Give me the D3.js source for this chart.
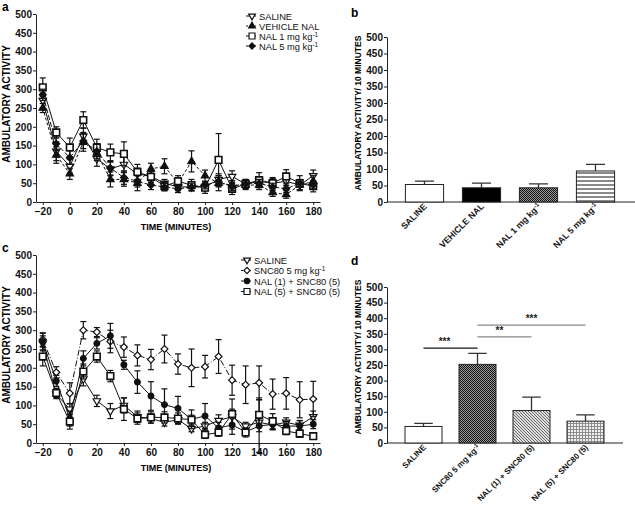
<!DOCTYPE html>
<html>
<head>
<meta charset="utf-8">
<script src="https://cdn.jsdelivr.net/npm/d3@7"></script>
<style>
body { margin: 0; background: #fff; }
svg { display: block; font-family: "Liberation Sans", Arial, sans-serif; }
</style>
</head>
<body>
<div id="chart"></div>
<script>
// ---- data ----
const times = [-20, -10, 0, 10, 20, 30, 40, 50, 60, 70, 80, 90, 100, 110, 120, 130, 140, 150, 160, 170, 180];
const timeTicks = [-20, 0, 20, 40, 60, 80, 100, 120, 140, 160, 180];
const yTicks = [0, 50, 100, 150, 200, 250, 300, 350, 400, 450, 500];

// panel a
const aSaline     = [270, 135, 95, 175, 115, 88, 100, 75, 68, 50, 40, 40, 40, 60, 68, 48, 55, 50, 55, 45, 70];
const aSalineErr  = [20, 25, 18, 22, 20, 18, 20, 15, 12, 10, 10, 10, 10, 15, 15, 12, 12, 12, 12, 12, 15];
const aVehicle    = [250, 125, 75, 160, 130, 60, 60, 50, 88, 95, 50, 108, 70, 50, 45, 45, 45, 25, 20, 45, 55];
const aVehicleErr = [12, 22, 15, 25, 20, 20, 18, 20, 15, 20, 15, 28, 15, 20, 12, 12, 12, 10, 10, 12, 15];
const aNal1       = [305, 185, 145, 218, 145, 132, 128, 80, 67, 42, 55, 45, 38, 112, 35, 48, 58, 50, 68, 50, 42];
const aNal1Err    = [25, 15, 25, 22, 22, 22, 32, 20, 15, 12, 15, 15, 15, 70, 15, 12, 20, 15, 18, 20, 15];
const aNal5       = [285, 155, 118, 162, 135, 90, 65, 55, 45, 40, 35, 40, 45, 55, 40, 48, 50, 40, 35, 50, 45];
const aNal5Err    = [15, 18, 18, 20, 20, 18, 18, 15, 12, 10, 10, 10, 10, 15, 10, 10, 10, 10, 10, 10, 10];

// panel c
const cSaline     = [265, 130, 90, 170, 112, 85, 100, 70, 65, 55, 62, 38, 45, 60, 70, 45, 55, 48, 55, 47, 70];
const cSalineErr  = [20, 12, 15, 18, 15, 20, 20, 15, 12, 10, 10, 8, 10, 15, 20, 10, 12, 12, 12, 12, 15];
const cSnc80      = [275, 188, 132, 300, 295, 270, 255, 233, 222, 250, 210, 200, 203, 230, 167, 155, 160, 130, 132, 115, 117];
const cSnc80Err   = [18, 15, 28, 23, 12, 30, 27, 28, 27, 37, 27, 50, 30, 45, 40, 50, 45, 40, 42, 48, 47];
const cNal1Snc    = [270, 165, 65, 225, 265, 285, 208, 162, 125, 102, 92, 63, 72, 40, 48, 30, 45, 50, 45, 45, 50];
const cNal1SncErr = [22, 15, 20, 20, 15, 33, 12, 30, 38, 42, 32, 25, 33, 15, 25, 10, 70, 15, 12, 15, 12];
const cNal5Snc    = [230, 133, 57, 190, 230, 178, 90, 65, 68, 68, 65, 62, 22, 28, 77, 28, 75, 58, 32, 25, 18];
const cNal5SncErr = [25, 12, 20, 20, 15, 15, 30, 15, 15, 15, 15, 12, 10, 10, 40, 12, 45, 20, 10, 10, 5];

// panel b
const bGroups = ["SALINE", "VEHICLE NAL", "NAL 1 mg kg", "NAL 5 mg kg"];
const bMeans  = [53, 43, 43, 94];
const bErrTop = [63, 57, 55, 114];

// panel d
const dGroups = ["SALINE", "SNC80 5 mg kg", "NAL (1) + SNC80 (5)", "NAL (5) + SNC80 (5)"];
const dMeans  = [53, 252, 104, 70];
const dErrTop = [63, 287, 147, 90];

// ---- svg ----
const width = 635, height = 506;
const svg = d3.select("#chart").append("svg")
    .attr("width", width).attr("height", height);

// fill patterns for bars
const defs = svg.append("defs");
function pat(id, w, h, draw) {
    const p = defs.append("pattern").attr("id", id)
        .attr("patternUnits", "userSpaceOnUse").attr("width", w).attr("height", h);
    draw(p);
}
pat("checkDark", 2, 2, p => {
    p.append("rect").attr("width", 2).attr("height", 2).attr("fill", "#9a9a9a");
    p.append("rect").attr("width", 1).attr("height", 1).attr("fill", "#111");
    p.append("rect").attr("x", 1).attr("y", 1).attr("width", 1).attr("height", 1).attr("fill", "#111");
});
pat("hStripe", 4, 4, p => {
    p.append("rect").attr("width", 4).attr("height", 4).attr("fill", "#fff");
    p.append("rect").attr("width", 4).attr("height", 2).attr("fill", "#8a8a8a");
});
pat("diag", 3, 3, p => {
    p.append("rect").attr("width", 3).attr("height", 3).attr("fill", "#e0e0e0");
    p.append("path").attr("d", "M0,0L3,3M-1,2L1,4M2,-1L4,1").attr("stroke", "#666").attr("stroke-width", 1);
});
pat("grid", 3, 3, p => {
    p.append("rect").attr("width", 3).attr("height", 3).attr("fill", "#f2f2f2");
    p.append("path").attr("d", "M0,0.5H3M0.5,0V3").attr("stroke", "#8c8c8c").attr("stroke-width", 1);
});

function styleAxis(g, size) {
    g.select(".domain").attr("stroke", "#222").attr("stroke-width", 1);
    g.selectAll(".tick line").attr("stroke", "#222");
    g.selectAll(".tick text").attr("font-size", size).attr("font-weight", "bold")
        .attr("fill", "#111").attr("font-family", "Liberation Sans, Arial, sans-serif");
}

function symbolPath(type) {
    if (type === "triDown" || type === "triUp") return d3.symbol(d3.symbolTriangle, 24)();
    if (type === "square") return d3.symbol(d3.symbolSquare, 44)();
    if (type === "diamond") return d3.symbol(d3.symbolSquare, 24)();
    return d3.symbol(d3.symbolCircle, 26)();
}
function markerTransform(type, x, y) {
    if (type === "triDown") return `translate(${x},${y}) rotate(180)`;
    if (type === "diamond") return `translate(${x},${y}) rotate(45)`;
    return `translate(${x},${y})`;
}

function labelText(sel, text, sup) {
    sel.append("tspan").text(text);
    if (sup) sel.append("tspan").attr("dy", -3).attr("font-size", "0.7em").text(sup);
}

// ---- line panels ----
function drawLinePanel(cfg) {
    const x = d3.scaleLinear().domain([-25, 185]).range([36, 320]);
    const y = d3.scaleLinear().domain([0, 500]).range([cfg.y0, cfg.y0 - 188]);
    const g = svg.append("g");

    const yAxis = g.append("g").attr("transform", "translate(36,0)")
        .call(d3.axisLeft(y).tickValues(yTicks).tickSize(3).tickPadding(1).tickSizeOuter(0));
    styleAxis(yAxis, 10);
    const xAxis = g.append("g").attr("transform", `translate(0,${cfg.y0})`)
        .call(d3.axisBottom(x).tickValues(timeTicks).tickSize(3).tickPadding(3).tickSizeOuter(0));
    styleAxis(xAxis, 10);

    g.append("text").attr("x", 176).attr("y", cfg.y0 + 28).attr("text-anchor", "middle")
        .attr("font-size", 9).attr("font-weight", "bold").text("TIME (MINUTES)");
    g.append("text").attr("transform", `translate(10,${cfg.y0 - 98}) rotate(-90)`)
        .attr("text-anchor", "middle").attr("font-size", 10).attr("font-weight", "bold")
        .text("AMBULATORY ACTIVITY");
    g.append("text").attr("x", 2).attr("y", cfg.letterY).attr("font-size", 12)
        .attr("font-weight", "bold").text(cfg.letter);

    const line = d3.line().x((d, i) => x(times[i])).y(d => y(d));

    cfg.series.forEach(s => {
        const sg = g.append("g");
        sg.append("path").datum(s.values).attr("d", line)
            .attr("fill", "none").attr("stroke", "#111").attr("stroke-width", 1)
            .attr("stroke-dasharray", s.dash || null);
        const eb = sg.selectAll(".err").data(s.values).enter().append("g");
        eb.append("line")
            .attr("x1", (d, i) => x(times[i])).attr("x2", (d, i) => x(times[i]))
            .attr("y1", (d, i) => y(d - s.err[i])).attr("y2", (d, i) => y(d + s.err[i]))
            .attr("stroke", "#111").attr("stroke-width", 1.2);
        [-1, 1].forEach(sign => {
            eb.append("line")
                .attr("x1", (d, i) => x(times[i]) - 3).attr("x2", (d, i) => x(times[i]) + 3)
                .attr("y1", (d, i) => y(d + sign * s.err[i])).attr("y2", (d, i) => y(d + sign * s.err[i]))
                .attr("stroke", "#111").attr("stroke-width", 1.2);
        });
        sg.selectAll(".mk").data(s.values).enter().append("path")
            .attr("d", symbolPath(s.marker))
            .attr("transform", (d, i) => markerTransform(s.marker, x(times[i]), y(d)))
            .attr("fill", s.filled ? "#111" : "#fff")
            .attr("stroke", "#111").attr("stroke-width", s.marker === "square" ? 1.6 : 1.2);
    });

    // legend
    const lg = g.append("g");
    cfg.series.forEach((s, i) => {
        const ly = cfg.legend.y + i * cfg.legend.step;
        const lx = cfg.legend.x;
        lg.append("line").attr("x1", lx - 6).attr("x2", lx + 4).attr("y1", ly).attr("y2", ly)
            .attr("stroke", "#111").attr("stroke-width", 1).attr("stroke-dasharray", s.dash ? "2,1" : null);
        lg.append("path").attr("d", symbolPath(s.marker))
            .attr("transform", markerTransform(s.marker, lx, ly) + " scale(0.9)")
            .attr("fill", s.filled ? "#111" : "#fff").attr("stroke", "#111").attr("stroke-width", 1.3);
        const t = lg.append("text").attr("x", lx + 7).attr("y", ly + 3.5)
            .attr("font-size", 9.3).attr("fill", "#111");
        labelText(t, s.name, s.sup);
    });
}

drawLinePanel({
    y0: 202, letter: "a", letterY: 11,
    legend: { x: 252, y: 16, step: 10 },
    series: [
        { name: "SALINE", values: aSaline, err: aSalineErr, marker: "triDown", filled: false },
        { name: "VEHICLE NAL", values: aVehicle, err: aVehicleErr, marker: "triUp", filled: true, dash: "3,2" },
        { name: "NAL 1 mg kg", sup: "-1", values: aNal1, err: aNal1Err, marker: "square", filled: false },
        { name: "NAL 5 mg kg", sup: "-1", values: aNal5, err: aNal5Err, marker: "diamond", filled: true, dash: "5,2" }
    ]
});

drawLinePanel({
    y0: 443, letter: "c", letterY: 252,
    legend: { x: 247, y: 260, step: 10.5 },
    series: [
        { name: "SALINE", values: cSaline, err: cSalineErr, marker: "triDown", filled: false },
        { name: "SNC80 5 mg kg", sup: "-1", values: cSnc80, err: cSnc80Err, marker: "diamond", filled: false, dash: "6,2,1,2" },
        { name: "NAL (1) + SNC80 (5)", values: cNal1Snc, err: cNal1SncErr, marker: "circle", filled: true },
        { name: "NAL (5) + SNC80 (5)", values: cNal5Snc, err: cNal5SncErr, marker: "square", filled: false }
    ]
});

// ---- bar panels ----
function drawBarPanel(cfg) {
    const x = d3.scaleBand().domain(cfg.groups).range(cfg.xRange)
        .paddingInner(cfg.pad).paddingOuter(cfg.pad / 2);
    const y = d3.scaleLinear().domain([0, 500]).range([cfg.y0, cfg.yTop]);
    const g = svg.append("g");

    const yAxis = g.append("g").attr("transform", "translate(387,0)")
        .call(d3.axisLeft(y).tickValues(yTicks).tickSize(3).tickPadding(1).tickSizeOuter(0));
    styleAxis(yAxis, 10);
    g.append("line").attr("x1", 387).attr("x2", cfg.xEnd).attr("y1", cfg.y0).attr("y2", cfg.y0)
        .attr("stroke", "#222").attr("stroke-width", 1);

    g.append("text").attr("transform", `translate(361,${cfg.titleY}) rotate(-90)`)
        .attr("text-anchor", "middle").attr("font-size", 8.5).attr("font-weight", "bold")
        .text("AMBULATORY ACTIVITY/ 10 MINUTES");
    g.append("text").attr("x", 351).attr("y", cfg.letterY).attr("font-size", 12)
        .attr("font-weight", "bold").text(cfg.letter);

    const bw = x.bandwidth();
    // error bars (upper only)
    g.selectAll(".eb").data(cfg.errTop).enter().append("path")
        .attr("d", (d, i) => {
            const cx = x(cfg.groups[i]) + bw / 2;
            return `M${cx},${y(cfg.means[i])}V${y(d)}M${cx - bw / 4},${y(d)}H${cx + bw / 4}`;
        })
        .attr("stroke", "#333").attr("stroke-width", 1.3).attr("fill", "none");
    g.selectAll(".bar").data(cfg.means).enter().append("rect")
        .attr("x", (d, i) => x(cfg.groups[i]))
        .attr("y", d => y(d))
        .attr("width", bw)
        .attr("height", d => cfg.y0 - y(d))
        .attr("fill", (d, i) => cfg.fills[i])
        .attr("stroke", "#222").attr("stroke-width", 1);

    cfg.groups.forEach((name, i) => {
        const cx = x(name) + bw / 2;
        const t = g.append("text")
            .attr("transform", `translate(${cx + 3},${cfg.y0 + 5}) rotate(-45)`)
            .attr("text-anchor", "end").attr("font-size", cfg.labelSize).attr("font-weight", "bold")
            .attr("fill", "#111");
        labelText(t, name, cfg.sups[i]);
    });
    return { x, y, bw };
}

drawBarPanel({
    groups: bGroups, means: bMeans, errTop: bErrTop, sups: [null, null, "-1", "-1"],
    xRange: [396, 624], pad: 0.33, xEnd: 635, y0: 202, yTop: 37,
    fills: ["#fff", "#000", "url(#checkDark)", "url(#hStripe)"],
    titleY: 113, letter: "b", letterY: 17, labelSize: 8.8
});

const dp = drawBarPanel({
    groups: dGroups, means: dMeans, errTop: dErrTop, sups: [null, "-1", null, null],
    xRange: [396.5, 612.5], pad: 0.315, xEnd: 623, y0: 443, yTop: 287,
    fills: ["#fff", "url(#checkDark)", "url(#diag)", "url(#grid)"],
    titleY: 357, letter: "d", letterY: 265, labelSize: 8.1
});

// significance brackets in d
const sigFrom = [0, 1, 1];
const sigTo = [1, 2, 3];
const sigLevel = [304, 340, 378];
const sigStars = ["***", "**", "***"];
const sigColor = ["#111", "#888", "#888"];
sigFrom.forEach((f, i) => {
    const x1 = dp.x(dGroups[f]) + dp.bw / 2;
    const x2 = dp.x(dGroups[sigTo[i]]) + dp.bw / 2;
    const yy = dp.y(sigLevel[i]);
    svg.append("line").attr("x1", x1).attr("x2", x2).attr("y1", yy).attr("y2", yy)
        .attr("stroke", sigColor[i]).attr("stroke-width", 1.3);
    svg.append("text").attr("x", (x1 + x2) / 2 + (i === 0 ? -6 : i === 1 ? -5 : 0))
        .attr("y", yy - 3).attr("text-anchor", "middle")
        .attr("font-size", 10).attr("font-weight", "bold").attr("fill", "#222")
        .text(sigStars[i]);
});
</script>
</body>
</html>
